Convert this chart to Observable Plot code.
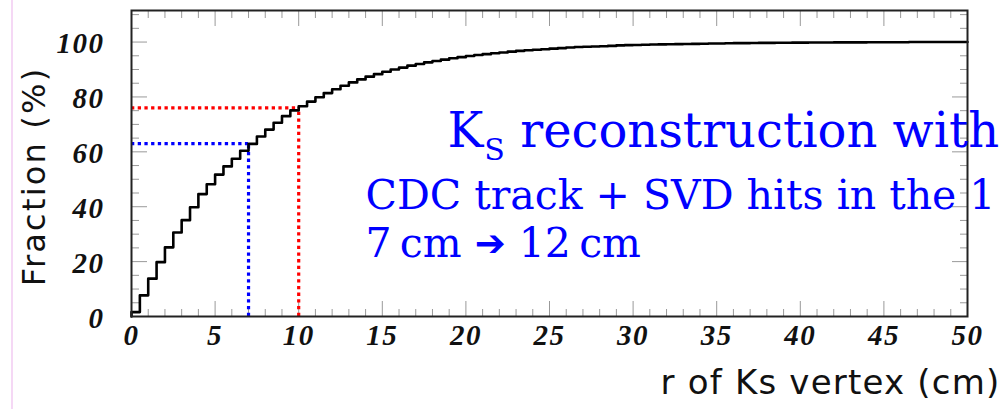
<!DOCTYPE html>
<html><head><meta charset="utf-8">
<script src="https://cdn.jsdelivr.net/npm/d3@7"></script>
<script src="https://cdn.jsdelivr.net/npm/@observablehq/plot@0.6"></script>
<style>
body{margin:0;background:#fff;}
#wrap{position:relative;width:1006px;height:409px;overflow:hidden;background:#fff;}
#edge{position:absolute;left:11px;top:0;width:2px;height:409px;background:#f5d8f5;z-index:1;}
g[aria-label="x-axis tick label"], g[aria-label="y-axis tick label"]{letter-spacing:1.5px;}
</style></head><body><div id="wrap"></div>
<script>
// cumulative fraction (%) per 0.5 cm bin of r, from r = 0 to 50 cm
const fractions = [
  1.6, 7.7, 13.8, 19.8, 25.2, 30.6, 35.1, 39.8, 44.6, 48.2,
  51.7, 54.7, 57.5, 60.4, 62.9, 65.6, 68.1, 70.6, 73.0, 75.1,
  76.6, 78.3, 79.9, 81.4, 82.8, 84.1, 85.3, 86.4, 87.4, 88.3,
  89.2, 90.0, 90.7, 91.4, 92.0, 92.6, 93.1, 93.6, 94.1, 94.5,
  94.9, 95.3, 95.6, 95.9, 96.2, 96.5, 96.8, 97.0, 97.2, 97.4,
  97.6, 97.8, 98.0, 98.2, 98.3, 98.4, 98.5, 98.6, 98.8, 98.9,
  98.95, 99.0, 99.1, 99.15, 99.2, 99.25, 99.3, 99.35, 99.4, 99.45,
  99.5, 99.55, 99.6, 99.6, 99.65, 99.7, 99.7, 99.75, 99.75, 99.8,
  99.8, 99.85, 99.85, 99.85, 99.9, 99.9, 99.9, 99.9, 99.95, 99.95,
  99.95, 99.95, 99.95, 100, 100, 100, 100, 100, 100, 100
];
const binWidth = 0.5;
const rMax = 50;
const markerR = [7, 10];
const markerFrac = [63, 76];
const markerColors = ["#0000ff", "#ff0000"];
const xMajor = [0, 5, 10, 15, 20, 25, 30, 35, 40, 45, 50];
const xMinor = d3.range(0, 51).filter(v => v % 5 !== 0);
const yMajor = [0, 20, 40, 60, 80, 100];
const yMinor = [5, 10, 15, 25, 30, 35, 45, 50, 55, 65, 70, 75, 85, 90, 95, 105, 110];
const annotation = [
  {text: "KS reconstruction with", r: 18.9, f: 61.6, size: 48},
  {text: "CDC track + SVD hits in the 1", r: 14.0, f: 39.0, size: 41},
  {text: "7\u2009cm \u2794 12\u2009cm", r: 14.0, f: 21.5, size: 41}
];
const xTitle = "r of Ks vertex (cm)";
const yTitle = "Fraction (%)";

const steps = [{r: 0, f: 0}]
  .concat(fractions.map((v, i) => ({r: i * binWidth, f: v})))
  .concat([{r: rMax, f: fractions[fractions.length - 1]}]);

const markers = markerR.map((r, i) => ({r, f: markerFrac[i], c: markerColors[i]}));

const tickFont = {fontFamily: "Liberation Serif", fontWeight: "bold", fontStyle: "italic", fontSize: 29};
const noLabel = () => "";

const chart = Plot.plot({
  width: 1006, height: 409,
  marginLeft: 131, marginRight: 39, marginTop: 10, marginBottom: 93,
  style: {background: "transparent", color: "#111"},
  x: {domain: [0, 50], label: null},
  y: {domain: [0, 111.5], label: null},
  marks: [
    // inward ticks
    Plot.axisX(xMinor, {anchor: "bottom", tickSize: -7, tickFormat: noLabel, stroke: "#999", label: null}),
    Plot.axisX(xMinor, {anchor: "top", tickSize: -7, tickFormat: noLabel, stroke: "#999", label: null}),
    Plot.axisX(xMajor, {anchor: "bottom", tickSize: -15, tickFormat: noLabel, stroke: "#999", label: null}),
    Plot.axisX(xMajor, {anchor: "top", tickSize: -15, tickFormat: noLabel, stroke: "#999", label: null}),
    Plot.axisY(yMinor, {anchor: "left", tickSize: -8, tickFormat: noLabel, stroke: "#999", label: null}),
    Plot.axisY(yMinor, {anchor: "right", tickSize: -8, tickFormat: noLabel, stroke: "#999", label: null}),
    Plot.axisY(yMajor, {anchor: "left", tickSize: -16, tickFormat: noLabel, stroke: "#999", label: null}),
    Plot.axisY(yMajor, {anchor: "right", tickSize: -16, tickFormat: noLabel, stroke: "#999", label: null}),
    // tick labels
    Plot.axisX(xMajor, {anchor: "bottom", tickSize: 0, tickPadding: 8, label: null, ...tickFont}),
    Plot.axisY(yMajor, {anchor: "left", tickSize: 0, tickPadding: 27, dy: 2, label: null, ...tickFont}),
    // dotted markers
    Plot.ruleY(markers, {y: "f", x1: 0, x2: "r", stroke: "c", strokeWidth: 3.2, strokeDasharray: "3.3,3.4"}),
    Plot.ruleX(markers, {x: "r", y1: 0, y2: "f", stroke: "c", strokeWidth: 3.2, strokeDasharray: "3.3,3.4"}),
    // cumulative histogram
    Plot.line(steps, {x: "r", y: "f", curve: "step-after", stroke: "#000", strokeWidth: 2.6}),
    Plot.frame({stroke: "#222", strokeWidth: 2}),
    // axis titles
    Plot.text([yTitle], {frameAnchor: "left", rotate: -90, dx: -97, dy: 13, lineAnchor: "middle", textAnchor: "middle",
      fontFamily: "DejaVu Sans", fontSize: 32, fill: "#111"}),
    Plot.text([xTitle], {frameAnchor: "bottom-right", dx: 33, dy: 77, lineAnchor: "bottom", textAnchor: "end",
      fontFamily: "DejaVu Sans", fontSize: 34, fill: "#111"}),
    // annotation
    Plot.text(annotation, {x: "r", y: "f", text: "text", textAnchor: "start", lineAnchor: "bottom",
      fontFamily: "DejaVu Serif", fontSize: d => d.size, fill: "#0000ff", clip: false})
  ]
});

document.getElementById("wrap").appendChild(chart);
const edge = document.createElement("div");
edge.id = "edge";
document.getElementById("wrap").appendChild(edge);

// style tweaks: letter spacing on axis titles, subscript in K_S, heavier arrow
const ns = "http://www.w3.org/2000/svg";
chart.querySelectorAll("text").forEach(t => {
  const s = t.textContent;
  if (s === xTitle) t.setAttribute("letter-spacing", "1.2");
  if (s === yTitle) t.setAttribute("letter-spacing", "2.2");
  if (s === "KS reconstruction with") {
    t.textContent = "";
    const a = document.createElementNS(ns, "tspan"); a.textContent = "K";
    const b = document.createElementNS(ns, "tspan"); b.textContent = "S";
    b.setAttribute("font-size", "30"); b.setAttribute("dy", "13"); b.setAttribute("dx", "1");
    const c = document.createElementNS(ns, "tspan"); c.textContent = " reconstruction with";
    c.setAttribute("dy", "-13");
    t.append(a, b, c);
  }
  if (s.indexOf("\u2794") >= 0) {
    const parts = s.split("\u2794");
    t.textContent = "";
    const a = document.createElementNS(ns, "tspan"); a.textContent = parts[0];
    const b = document.createElementNS(ns, "tspan"); b.textContent = "\u2794";
    b.setAttribute("font-size", "37"); b.setAttribute("font-family", "DejaVu Sans"); b.setAttribute("dy", "-1");
    const c = document.createElementNS(ns, "tspan"); c.textContent = parts[1];
    c.setAttribute("dy", "1");
    t.append(a, b, c);
  }
});
</script>
</body></html>
